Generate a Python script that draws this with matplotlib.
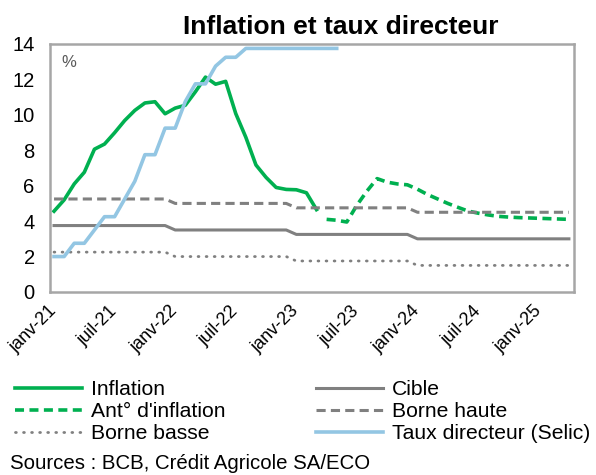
import matplotlib.pyplot as plt
import numpy as np

plt.rcParams["font.family"] = ["Liberation Sans", "DejaVu Sans"]

# mois de janv-21 à avr-25
mois = np.arange(52)
tick_labels = ["janv-21", "juil-21", "janv-22", "juil-22", "janv-23",
               "juil-23", "janv-24", "juil-24", "janv-25"]

# inflation observée (janv-21 -> mars-23)
inflation = [4.56, 5.20, 6.10, 6.76, 8.06, 8.35, 8.99, 9.68, 10.25, 10.67,
             10.74, 10.06, 10.38, 10.54, 11.30, 12.13, 11.73, 11.89, 10.07,
             8.73, 7.17, 6.47, 5.90, 5.79, 5.77, 5.60, 4.65]
# anticipations d'inflation (avr-23 -> avr-25)
anticipation = [4.10, 4.05, 3.95, 4.90, 5.70, 6.40, 6.20, 6.10, 6.05, 5.80,
                5.50, 5.25, 5.00, 4.78, 4.57, 4.45, 4.35, 4.27, 4.23, 4.20,
                4.18, 4.16, 4.14, 4.12, 4.10]
cible = [3.75] * 12 + [3.5] * 12 + [3.25] * 12 + [3.0] * 16
borne_haute = [5.25] * 12 + [5.0] * 12 + [4.75] * 12 + [4.5] * 16
borne_basse = [2.25] * 12 + [2.0] * 12 + [1.75] * 12 + [1.5] * 16
# taux Selic (janv-21 -> mai-23)
selic = [2.0, 2.0, 2.75, 2.75, 3.5, 4.25, 4.25, 5.25, 6.25, 7.75, 7.75,
         9.25, 9.25, 10.75, 11.75, 11.75, 12.75, 13.25, 13.25] + [13.75] * 10

vert = "#00B050"
gris = "#808080"
bleu = "#93C6E3"

fig = plt.figure(figsize=(5.96, 4.75), dpi=100)
ax = fig.add_axes([0.0839, 0.3853, 0.8791, 0.5221])

l_inf, = ax.plot(mois[:len(inflation)], inflation, color=vert, lw=2.6,
                 label="Inflation")
l_ant, = ax.plot(mois[len(inflation):], anticipation, color=vert, lw=2.6,
                 dashes=(2.5, 1.5), label="Ant° d'inflation")
l_bb, = ax.plot(mois, borne_basse, color=gris, lw=2.0,
                dashes=(0.3, 2.6), dash_capstyle="round", label="Borne basse")
l_cib, = ax.plot(mois, cible, color=gris, lw=2.2, label="Cible")
l_bh, = ax.plot(mois, borne_haute, color=gris, lw=2.2,
                dashes=(3.0, 1.7), label="Borne haute")
l_sel, = ax.plot(mois[:len(selic)], selic, color=bleu, lw=2.6,
                 label="Taux directeur (Selic)")

ax.set_xlim(-0.4, 51.5)
ax.set_ylim(0, 14)
ax.set_yticks(np.arange(0, 15, 2))
ax.set_xticks(mois[::6])
ax.set_xticklabels(tick_labels, rotation=45, ha="right", va="center",
                   rotation_mode="anchor")
ax.tick_params(axis="y", length=0, pad=11, labelsize=14.5)
ax.tick_params(axis="x", length=0, pad=12, labelsize=13)
for s in ax.spines.values():
    s.set_color("#A6A6A6")
    s.set_linewidth(1.8)

ax.text(0.022, 0.955, "%", transform=ax.transAxes, fontsize=12,
        color="#595959", va="top", ha="left")

fig.text(0.571, 0.943, "Inflation et taux directeur", ha="center",
         va="center", fontsize=19, fontweight="bold")

fig.legend(handles=[l_inf, l_ant, l_bb, l_cib, l_bh, l_sel], ncol=2,
           loc="upper left", bbox_to_anchor=(0.025, 0.199), frameon=False,
           fontsize=15.2, handlelength=3.2, handletextpad=0.42,
           columnspacing=4.25, labelspacing=0.13, borderaxespad=0,
           borderpad=0)

fig.text(0.017, 0.025, "Sources : BCB, Crédit Agricole SA/ECO",
         fontsize=14.7, ha="left", va="center")

fig.savefig("out.png", dpi=100)
